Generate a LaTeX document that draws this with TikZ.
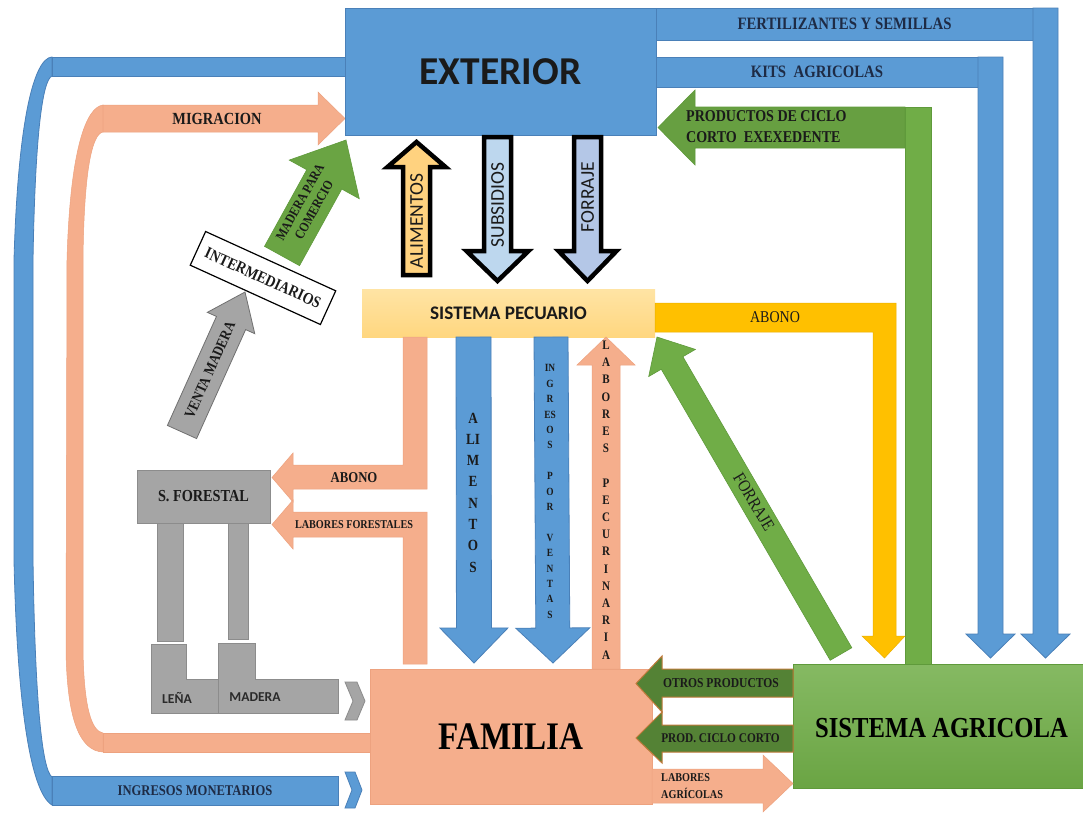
\documentclass[tikz,border=0pt]{standalone}
\usepackage{fontspec}
\newfontfamily\srf[FakeStretch=0.85]{Liberation Serif}
\newfontfamily\sff{Carlito}
\usetikzlibrary{calc}

\definecolor{bl}{HTML}{5B9BD5}
\definecolor{bld}{HTML}{4A80B8}
\definecolor{sal}{HTML}{F5AE8C}
\definecolor{sald}{HTML}{EDA27F}
\definecolor{gr}{HTML}{70AD47}
\definecolor{grd}{HTML}{5F9A3B}
\definecolor{dgr}{HTML}{548235}
\definecolor{dgrb}{HTML}{C07A3A}
\definecolor{gold}{HTML}{FFC000}
\definecolor{goldd}{HTML}{EBB000}
\definecolor{pec}{HTML}{FFDB86}
\definecolor{gry}{HTML}{A5A5A5}
\definecolor{gryd}{HTML}{8C8C8C}
\definecolor{alim}{HTML}{FFD27F}
\definecolor{subs}{HTML}{BDD7EE}
\definecolor{forr}{HTML}{B4C7E7}
\definecolor{ink}{HTML}{1A1A1A}
\definecolor{navy}{HTML}{1E2B45}
\definecolor{dkgray}{HTML}{2A2A2A}

% straight block arrow: style, tail, tip, half shaft width, half head width, head length
\newcommand\blockarrow[6]{%
  \path[#1] let \p1=($(#3)!#6!(#2)$) in
    ($(#2)!#4!90:(#3)$) -- ($(\p1)!#4!90:(#3)$) -- ($(\p1)!#5!90:(#3)$) -- (#3)
    -- ($(\p1)!#5!-90:(#3)$) -- ($(\p1)!#4!-90:(#3)$) -- ($(#2)!#4!-90:(#3)$) -- cycle;}

\tikzset{
  blue shape/.style={fill=bl, draw=bld, line width=0.8pt},
  salmon shape/.style={fill=sal, draw=sald, line width=0.5pt},
  green shape/.style={fill=gr, draw=grd, line width=0.6pt},
  dark green shape/.style={fill=dgr, draw=dgrb, line width=1pt},
  gold shape/.style={fill=gold, draw=goldd, line width=0.5pt},
  gray shape/.style={fill=gry, draw=gryd, line width=0.8pt},
  outlined/.style={draw=black, line width=4.5pt, line join=miter},
  serif label/.style={font=\srf\bfseries\fontsize{#1}{#1}\selectfont, text=ink, inner sep=0pt},
  serif plain/.style={font=\srf\fontsize{#1}{#1}\selectfont, text=ink, inner sep=0pt},
  sans label/.style={font=\sff\bfseries\fontsize{#1}{#1}\selectfont, text=ink, inner sep=0pt},
  sans plain/.style={font=\sff\fontsize{#1}{#1}\selectfont, text=ink, inner sep=0pt},
}

\begin{document}
\begin{tikzpicture}[x=1pt,y=-1pt,line join=miter]
\useasboundingbox (0,0) rectangle (1083,812);
\fill[white] (0,0) rectangle (1083,812);

% ---------- outer blue loop: ingresos monetarios ----------
\path[blue shape] (52,57) .. controls (34,58) and (18,120) .. (14,260) -- (14,560)
  .. controls (17,700) and (30,792) .. (52,805) -- (52,777)
  .. controls (42,770) and (35,700) .. (33,560) -- (33,260)
  .. controls (35,140) and (42,80) .. (52,76) -- cycle;
\path[blue shape] (52,57) rectangle (345,76);
\node[blue shape, minimum width=286pt, minimum height=29pt, inner sep=0pt,
      font=\srf\bfseries\fontsize{14.8}{14.8}\selectfont, text=navy] (ing) at (195,790.5) {INGRESOS MONETARIOS};
\path[blue shape] (345,772) -- (355,772) -- (362,790) -- (355,808) -- (345,808) -- (352,790) -- cycle;

% ---------- salmon loop: migracion ----------
\path[salmon shape] (103,105) .. controls (86,107) and (70,150) .. (67,260) -- (66,650)
  .. controls (67,720) and (80,751) .. (103,752) -- (103,733)
  .. controls (92,731) and (84,710) .. (83,650) -- (83,260)
  .. controls (84,170) and (92,134) .. (103,132) -- cycle;
\path[salmon shape] (103,733) rectangle (370,752);
\coordinate (migS) at (103,118.5);
\coordinate (migT) at (345,118.5);
\blockarrow{salmon shape}{migS}{migT}{13.5pt}{26.5pt}{27pt}
\node[serif label=17] (mig) at (217,118.5) {MIGRACION};

% ---------- exterior ----------
\node[blue shape, minimum width=311pt, minimum height=127pt, inner sep=0pt,
      font=\sff\bfseries\fontsize{39.5}{39.5}\selectfont, text=ink] (ext) at (500.5,71.5) {EXTERIOR};

% ---------- fertilizantes / kits ----------
\node[blue shape, minimum width=377pt, minimum height=32pt, inner sep=0pt,
      font=\srf\bfseries\fontsize{17.4}{17.4}\selectfont, text=navy] (fert) at (844.5,24) {FERTILIZANTES Y SEMILLAS};
\path[blue shape] (1033,8) -- (1058,8) -- (1058,634) -- (1070,634) -- (1045.5,658) -- (1021,634) -- (1033,634) -- cycle;
\node[blue shape, minimum width=322pt, minimum height=30pt, inner sep=0pt,
      font=\srf\bfseries\fontsize{17.4}{17.4}\selectfont, text=navy] (kits) at (817,72) {KITS\ \ AGRICOLAS};
\path[blue shape] (978,57) -- (1003,57) -- (1003,634) -- (1015,634) -- (990.5,658) -- (966,634) -- (978,634) -- cycle;

% ---------- productos de ciclo corto excedente ----------
\path[green shape, fill=gr!92!black] (905,107) -- (695,107) -- (695,90) -- (658,127.5) -- (695,165) -- (695,148) -- (905,148) -- cycle;
\path[green shape] (905,107) rectangle (931,665);
\node[anchor=west, align=left, inner sep=0pt, text=ink,
      font=\srf\bfseries\fontsize{16.5}{21}\selectfont] (prod) at (686,127) {PRODUCTOS DE CICLO\\CORTO\ \ EXEXEDENTE};

% ---------- flows between exterior and sistema pecuario ----------
\coordinate (alS) at (416.5,275);  \coordinate (alT) at (416.5,142);
\coordinate (suS) at (497.5,137);  \coordinate (suT) at (497.5,281);
\coordinate (foS) at (587.5,137);  \coordinate (foT) at (587.5,281);
\blockarrow{outlined, fill=alim}{alS}{alT}{13.5pt}{29pt}{25pt}
\blockarrow{outlined, fill=subs}{suS}{suT}{13.5pt}{31pt}{30pt}
\blockarrow{outlined, fill=forr}{foS}{foT}{13.5pt}{29pt}{30pt}
\node[sans plain=19.5, rotate=90] at (416.5,221) {ALIMENTOS};
\node[sans plain=19.5, rotate=90] at (497.5,205) {SUBSIDIOS};
\node[sans plain=19.5, rotate=90] at (587.5,197) {FORRAJE};

% ---------- sistema pecuario ----------
\node[top color=pec!75!white, bottom color=pec!95!orange, minimum width=293pt, minimum height=48pt, inner sep=0pt,
      font=\sff\bfseries\fontsize{19.2}{19.2}\selectfont, text=ink] (pec) at (508.5,313) {SISTEMA PECUARIO};

% abono to the agricultural system
\path[gold shape] (655,303) -- (896,303) -- (896,636) -- (905,636) -- (884.5,658) -- (862,636) -- (873,636) -- (873,332) -- (655,332) -- cycle;
\node[serif plain=16.5] at (775,317.5) {ABONO};

% forraje from the agricultural system
\coordinate (frS) at (841,654);
\coordinate (frT) at (657,337);
\blockarrow{green shape}{frS}{frT}{12.5pt}{27pt}{30pt}
\node[serif plain=17.5, rotate=-59.3] at (754,502) {FORRAJE};

% ---------- abono and labores forestales ----------
\path[salmon shape] (403,337) -- (427,337) -- (427,489) -- (293,489) -- (293,502) -- (272,477.5) -- (293,453) -- (293,465) -- (403,465) -- cycle;
\node[serif label=15] at (354,478) {ABONO};
\path[salmon shape] (427,664) -- (403,664) -- (403,537) -- (293,537) -- (293,549) -- (272,524.5) -- (293,500) -- (293,512) -- (427,512) -- cycle;
\node[serif label=12] at (354,524.5) {LABORES FORESTALES};

% ---------- sistema forestal ----------
\node[gray shape, minimum width=133pt, minimum height=53pt, inner sep=0pt,
      font=\srf\bfseries\fontsize{16.8}{16.8}\selectfont, text=ink] (for) at (203.5,496.5) {S. FORESTAL};
\path[gray shape] (157,523) rectangle (183,641);
\path[gray shape] (228,523) rectangle (248,639);
\path[gray shape] (151,644) -- (186,644) -- (186,679) -- (218,679) -- (218,713) -- (151,713) -- cycle;
\path[gray shape] (218,643) -- (255,643) -- (255,679) -- (338,679) -- (338,713) -- (218,713) -- cycle;
\node[sans label=13.6, text=dkgray] (lena) at (177,698) {LEÑA};
\node[sans label=13.6, text=dkgray] (mad) at (255,697) {MADERA};
\path[gray shape] (345,682) -- (357,682) -- (365,701) -- (357,720) -- (345,720) -- (353,701) -- cycle;

% venta de madera via intermediarios
\coordinate (vmS) at (182,432);
\coordinate (vmT) at (245,292);
\blockarrow{gray shape, draw=gryd!80!black}{vmS}{vmT}{16pt}{26pt}{34pt}
\node[serif label=15, rotate=65.8] at (210,370) {VENTA MADERA};

\node[draw=black, fill=white, line width=1.2pt, rotate=-24.5, minimum width=143pt, minimum height=37pt,
      inner sep=0pt, font=\srf\bfseries\fontsize{16.3}{16.3}\selectfont, text=ink] (inter) at (263,278) {INTERMEDIARIOS};

\coordinate (mcS) at (282,256);
\coordinate (mcT) at (346,140);
\blockarrow{green shape, fill=gr!95!black}{mcS}{mcT}{20pt}{40pt}{45pt}
\node[rotate=61, align=center, inner sep=0pt, text=ink,
      font=\srf\bfseries\fontsize{13.5}{16}\selectfont] at (307,206) {MADERA PARA\\COMERCIO};

% ---------- flows between sistema pecuario and familia ----------
\coordinate (amS) at (473.5,337);  \coordinate (amT) at (474,663);
\coordinate (ivS) at (551,337);    \coordinate (ivT) at (553,663);
\coordinate (lpS) at (606,669);    \coordinate (lpT) at (606,337);
\blockarrow{blue shape}{amS}{amT}{17.5pt}{34pt}{35pt}
\blockarrow{blue shape}{ivS}{ivT}{17pt}{37pt}{35pt}
\blockarrow{salmon shape}{lpS}{lpT}{14pt}{29pt}{28pt}
\node[align=center, inner sep=0pt, text=ink, font=\srf\bfseries\fontsize{15.5}{21.3}\selectfont]
  at (473,492.5) {A\\LI\\M\\E\\N\\T\\O\\S};
\node[align=center, inner sep=0pt, text=ink, font=\srf\bfseries\fontsize{11}{15.4}\selectfont]
  at (550,491.5) {IN\\G\\R\\ES\\O\\S\\~\\P\\O\\R\\~\\V\\E\\N\\T\\A\\S};
\node[align=center, inner sep=0pt, text=ink, font=\srf\bfseries\fontsize{13}{17.2}\selectfont]
  at (606,500) {L\\A\\B\\O\\R\\E\\S\\~\\P\\E\\C\\U\\R\\I\\N\\A\\R\\I\\A};

% ---------- familia and sistema agricola ----------
\node[fill=sal, draw=sald, line width=0.5pt, minimum width=282pt, minimum height=135pt, inner sep=0pt,
      font=\srf\bfseries\fontsize{39}{39}\selectfont, text=black] (fam) at (511,736.5) {FAMILIA};
\node[top color=gr!85!white, bottom color=gr!95!black, draw=grd, line width=0.6pt, minimum width=292pt, minimum height=124pt, inner sep=0pt,
      anchor=north west] (agr) at (793,664) {};
\node[inner sep=0pt, font=\srf\bfseries\fontsize{29}{29}\selectfont, text=black] (agrtext) at (941.5,728) {SISTEMA AGRICOLA};

\path[dark green shape] (793,669) -- (662,669) -- (662,656) -- (636,683.5) -- (662,712) -- (662,697) -- (793,697) -- cycle;
\path[dark green shape] (793,725) -- (662,725) -- (662,712) -- (636,738) -- (662,763) -- (662,752) -- (793,752) -- cycle;
\node[serif label=13.6] at (721,683) {OTROS PRODUCTOS};
\node[serif label=13.3] at (720.5,738.5) {PROD. CICLO CORTO};

\path[salmon shape] (652,769) -- (763,769) -- (763,755) -- (793,783.5) -- (763,812) -- (763,803) -- (652,803) -- cycle;
\node[anchor=west, align=left, inner sep=0pt, text=ink,
      font=\srf\bfseries\fontsize{12}{17}\selectfont] at (661,786) {LABORES\\AGRÍCOLAS};

\end{tikzpicture}
\end{document}
